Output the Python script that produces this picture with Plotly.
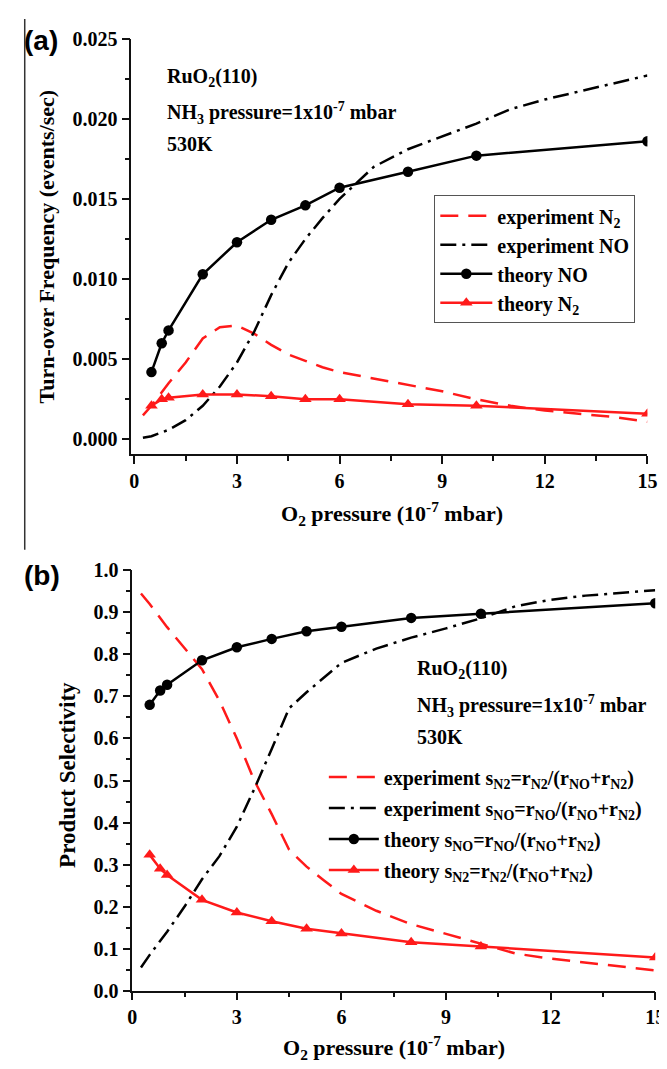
import plotly.graph_objects as go

# ---------------- data ----------------
x_theory = [0.5, 0.8, 1, 2, 3, 4, 5, 6, 8, 10, 15]
x_exp = [0.25, 0.5, 1, 1.5, 2, 2.5, 3, 3.5, 4, 4.5, 5, 5.5, 6, 7, 8, 9, 10, 11, 12, 13, 14, 15]

# panel (a): turn-over frequency (events/sec)
tof_exp_n2 = [0.0015, 0.0021, 0.0035, 0.0048, 0.0063, 0.0070, 0.0071, 0.0066, 0.0059, 0.0053, 0.0049,
              0.0045, 0.0042, 0.0038, 0.0034, 0.0030, 0.0025, 0.0021, 0.0018, 0.0016, 0.0014, 0.0011]
tof_exp_no = [0.0001, 0.0002, 0.0006, 0.0012, 0.0021, 0.0033, 0.0048, 0.0067, 0.0090, 0.0110, 0.0125,
              0.0138, 0.0150, 0.0170, 0.0181, 0.0189, 0.0197, 0.0206, 0.0212, 0.0217, 0.0222, 0.0227]
tof_theory_no = [0.0042, 0.0060, 0.0068, 0.0103, 0.0123, 0.0137, 0.0146, 0.0157, 0.0167, 0.0177, 0.0186]
tof_theory_n2 = [0.0021, 0.0025, 0.0026, 0.0028, 0.0028, 0.0027, 0.0025, 0.0025, 0.0022, 0.0021, 0.0016]

# panel (b): product selectivity
sel_exp_n2 = [0.945, 0.92, 0.865, 0.815, 0.765, 0.69, 0.60, 0.50, 0.42, 0.335, 0.295,
              0.262, 0.23, 0.19, 0.158, 0.135, 0.112, 0.088, 0.076, 0.067, 0.058, 0.048]
sel_exp_no = [0.055, 0.085, 0.14, 0.20, 0.265, 0.32, 0.39, 0.48, 0.575, 0.672, 0.71,
              0.745, 0.78, 0.814, 0.84, 0.862, 0.886, 0.915, 0.93, 0.94, 0.947, 0.953]
sel_theory_no = [0.68, 0.714, 0.728, 0.786, 0.817, 0.837, 0.855, 0.866, 0.887, 0.897, 0.922]
sel_theory_n2 = [0.323, 0.29, 0.275, 0.216, 0.186, 0.165, 0.147, 0.136, 0.115, 0.105, 0.079]

names_a = ["experiment N<sub>2</sub>", "experiment NO", "theory NO", "theory N<sub>2</sub>"]
names_b = ["experiment s<sub>N2</sub>=r<sub>N2</sub>/(r<sub>NO</sub>+r<sub>N2</sub>)",
           "experiment s<sub>NO</sub>=r<sub>NO</sub>/(r<sub>NO</sub>+r<sub>N2</sub>)",
           "theory s<sub>NO</sub>=r<sub>NO</sub>/(r<sub>NO</sub>+r<sub>N2</sub>)",
           "theory s<sub>N2</sub>=r<sub>N2</sub>/(r<sub>NO</sub>+r<sub>N2</sub>)"]

# ---------------- styles ----------------
W, H = 667, 1069
SERIF = "Liberation Serif"
RED = "#ff1a1a"
BLACK = "#000000"
DASH = "18px,10px"
DASHDOT = "16px,6px,3px,6px"
LW = 2.5

fig = go.Figure()


def add_panel(xa, ya, leg, names, exp_n2, exp_no, th_no, th_n2, tag):
    fig.add_trace(go.Scatter(x=x_exp, y=exp_n2, mode="lines", name=names[0], xaxis=xa, yaxis=ya,
                             legend=leg, legendgroup=tag + "1",
                             line=dict(color=RED, width=LW, dash=DASH)))
    fig.add_trace(go.Scatter(x=x_exp, y=exp_no, mode="lines", name=names[1], xaxis=xa, yaxis=ya,
                             legend=leg, legendgroup=tag + "2",
                             line=dict(color=BLACK, width=LW, dash=DASHDOT)))
    fig.add_trace(go.Scatter(x=x_theory, y=th_no, mode="lines+markers", name=names[2], xaxis=xa, yaxis=ya,
                             legend=leg, legendgroup=tag + "3", line=dict(color=BLACK, width=LW),
                             marker=dict(symbol="circle", size=10.5, color=BLACK)))
    fig.add_trace(go.Scatter(x=x_theory, y=th_n2, mode="lines+markers", name=names[3], xaxis=xa, yaxis=ya,
                             legend=leg, legendgroup=tag + "4", line=dict(color=RED, width=LW),
                             marker=dict(symbol="triangle-up", size=11, color=RED)))


add_panel("x", "y", "legend", names_a, tof_exp_n2, tof_exp_no, tof_theory_no, tof_theory_n2, "a")
add_panel("x2", "y2", "legend2", names_b, sel_exp_n2, sel_exp_no, sel_theory_no, sel_theory_n2, "b")

tickfont = dict(family=SERIF, size=20, color=BLACK, weight="bold")


def ax(domain, rng, dtick, minor, anchor, fmt=None, side=None, overlay=None, inside=False):
    d = dict(domain=domain, range=rng, anchor=anchor, dtick=dtick, tick0=0,
             showgrid=False, zeroline=False, showline=True, linecolor="#111", linewidth=1.5,
             ticks="inside" if inside else "outside", ticklen=8, tickwidth=1.5, tickcolor="#111",
             minor=dict(dtick=minor, tick0=0, ticks="inside" if inside else "outside", ticklen=5,
                        tickwidth=1.5, tickcolor="#111", showgrid=False),
             tickfont=tickfont, fixedrange=True)
    if fmt:
        d["tickformat"] = fmt
    if side:
        d["side"] = side
    if overlay:
        d["overlaying"] = overlay
        d["showticklabels"] = False
    return d


xa_dom = [121 / W, 649 / W]
ya_dom = [1 - 444 / H, 1 - 20 / H]
xb_dom = [122 / W, 657 / W]
yb_dom = [1 - 992 / H, 1 - 563 / H]
xa_rng = [-0.09, 15]
ya_rng = [-0.0009, 0.025]
xb_rng = [0, 15]
yb_rng = [0, 1.0]

fig.update_layout(
    width=W, height=H, margin=dict(l=0, r=0, t=0, b=0),
    paper_bgcolor="white", plot_bgcolor="white",
    xaxis=ax(xa_dom, xa_rng, 3, 1.5, "y"),
    yaxis=ax(ya_dom, ya_rng, 0.005, 0.0025, "x", fmt=".3f"),
    xaxis2=ax(xb_dom, xb_rng, 3, 1.5, "y2"),
    yaxis2=ax(yb_dom, yb_rng, 0.1, 0.05, "x2", fmt=".1f"),
    xaxis3=ax(xa_dom, xa_rng, 3, 1.5, "y", side="top", overlay="x", inside=True),
    yaxis3=ax(ya_dom, ya_rng, 0.005, 0.0025, "x", side="right", overlay="y", inside=True),
    xaxis4=ax(xb_dom, xb_rng, 3, 1.5, "y2", side="top", overlay="x2", inside=True),
    yaxis4=ax(yb_dom, yb_rng, 0.1, 0.05, "x2", side="right", overlay="y2", inside=True),
    legend=dict(x=431 / W, y=1 - 180 / H, xanchor="left", yanchor="top",
                bgcolor="white", bordercolor="#555", borderwidth=1,
                font=dict(family=SERIF, size=20, color=BLACK, weight="bold"),
                itemwidth=52, tracegroupgap=0),
    legend2=dict(x=318 / W, y=1 - 754 / H, xanchor="left", yanchor="top",
                 bgcolor="rgba(0,0,0,0)", borderwidth=0,
                 font=dict(family=SERIF, size=20, color=BLACK, weight="bold"),
                 itemwidth=50, tracegroupgap=2),
    showlegend=True,
)

afont = dict(family=SERIF, size=20, color=BLACK, weight="bold")
tfont = dict(family=SERIF, size=22, color=BLACK, weight="bold")
tfont_b = dict(family=SERIF, size=23, color=BLACK, weight="bold")
lab_font = dict(family="Liberation Sans", size=28, color=BLACK, weight="bold")

ann = [
    ("RuO<sub>2</sub>(110)", 156, 60, afont, "left", 0),
    ("NH<sub>3</sub> pressure=1x10<sup>-7</sup> mbar", 156, 96, afont, "left", 0),
    ("530K", 156, 128, afont, "left", 0),
    ("RuO<sub>2</sub>(110)", 411, 664, afont, "left", 0),
    ("NH<sub>3</sub> pressure=1x10<sup>-7</sup> mbar", 411, 701, afont, "left", 0),
    ("530K", 411, 733, afont, "left", 0),
    ("O<sub>2</sub> pressure (10<sup>-7</sup> mbar)", 388, 505, tfont, "center", 0),
    ("O<sub>2</sub> pressure (10<sup>-7</sup> mbar)", 390, 1050, tfont, "center", 0),
    ("Turn-over Frequency (events/sec)", 34, 232, tfont, "center", -90),
    ("Product Selectivity", 55, 772, tfont_b, "center", -90),
    ("(a)", 29, 22, lab_font, "center", 0),
    ("(b)", 30, 568, lab_font, "center", 0),
]
for text, px, py, f, xa, ang in ann:
    fig.add_annotation(text=text, x=px / W, y=1 - py / H, xref="paper", yref="paper",
                       xanchor=xa, yanchor="middle", showarrow=False, font=f, textangle=ang)

# stray frame line at the far left of panel (a)
fig.add_shape(type="line", xref="paper", yref="paper", x0=12 / W, x1=12 / W, y0=1, y1=1 - 542 / H,
              line=dict(color="#333", width=1.5))

fig.write_html("out.html")
